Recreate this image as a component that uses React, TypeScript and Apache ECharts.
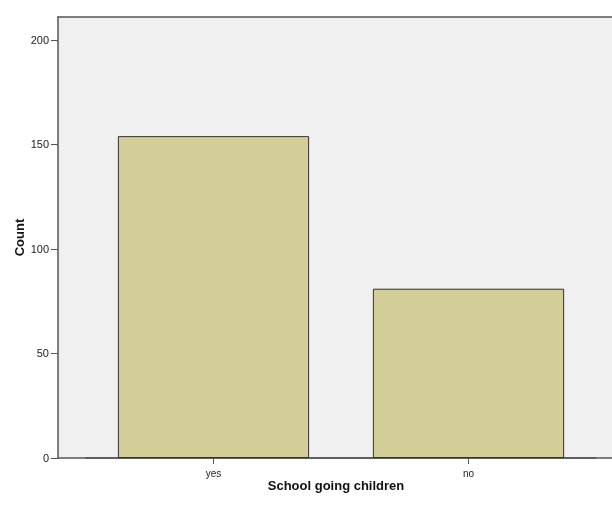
import React, { useEffect, useRef } from "react";
import * as echarts from "echarts";

const categories = ["yes", "no"];
const counts = [154, 81];
const yTicks = [0, 50, 100, 150, 200];
const yMax = 211;

export default function App() {
  const ref = useRef<HTMLDivElement>(null);
  useEffect(() => {
    if (!ref.current) return;
    const chart = echarts.init(ref.current, null, { renderer: "svg" });
    const font = "'Liberation Sans', Arial, sans-serif";
    const lineColor = "#555555";
    chart.setOption({
      animation: false,
      grid: [
        { left: 58, top: 17, right: -2, bottom: 48, show: true, backgroundColor: "#f0f0f0", borderWidth: 0, containLabel: false, outerBoundsMode: "none" },
        { left: 86, top: 17, width: 510, bottom: 48, show: false, containLabel: false, outerBoundsMode: "none" },
      ],
      xAxis: [
        {
          gridIndex: 0, type: "value", min: 0, max: 1, position: "bottom",
          axisLine: { show: true, lineStyle: { color: lineColor, width: 1.5 } },
          axisTick: { show: false }, axisLabel: { show: false }, splitLine: { show: false },
          name: "School going children", nameLocation: "middle", nameGap: 21,
          nameTextStyle: { fontFamily: font, fontSize: 13, fontWeight: "bold", color: "#111" },
        },
        {
          gridIndex: 0, type: "value", min: 0, max: 1, position: "top",
          axisLine: { show: true, lineStyle: { color: lineColor, width: 1.5 } },
          axisTick: { show: false }, axisLabel: { show: false }, splitLine: { show: false },
        },
        {
          gridIndex: 1, type: "category", data: categories,
          axisLine: { show: true, lineStyle: { color: lineColor, width: 1.5 } },
          axisTick: { show: true, alignWithLabel: true, length: 6, lineStyle: { color: lineColor } },
          axisLabel: { fontFamily: font, fontSize: 10, color: "#222", margin: 10 },
        },
      ],
      yAxis: [
        {
          gridIndex: 0, type: "value", min: 0, max: yMax, interval: 50,
          axisLine: { show: true, lineStyle: { color: lineColor, width: 1.5 } },
          axisTick: { show: true, length: 7, customValues: yTicks, lineStyle: { color: lineColor } },
          axisLabel: {
            fontFamily: font, fontSize: 11, color: "#222", margin: 9,
            customValues: yTicks,
          },
          splitLine: { show: false },
          name: "Count", nameLocation: "middle", nameGap: 32, nameMoveOverlap: false,
          nameTextStyle: { fontFamily: font, fontSize: 13, fontWeight: "bold", color: "#111" },
        },
        {
          gridIndex: 1, type: "value", min: 0, max: yMax, show: false,
        },
      ],
      series: [
        {
          type: "bar", xAxisIndex: 2, yAxisIndex: 1, data: counts, barWidth: "75%",
          itemStyle: { color: "#d3ce97", borderColor: "#333333", borderWidth: 1 },
        },
      ],
    });
    return () => chart.dispose();
  }, []);
  return <div ref={ref} style={{ position: "fixed", left: 0, top: 0, width: 612, height: 506 }} />;
}
